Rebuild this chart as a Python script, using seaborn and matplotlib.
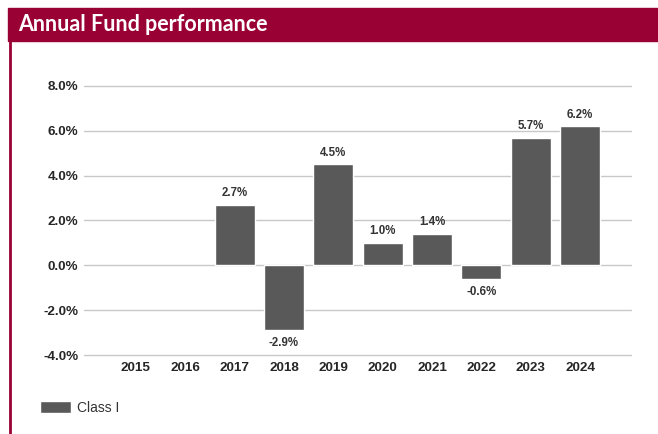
import matplotlib.pyplot as plt
import numpy as np
import pandas as pd
import seaborn as sns
from matplotlib.patches import Rectangle
from matplotlib.lines import Line2D

# data
years = ['2015', '2016', '2017', '2018', '2019', '2020', '2021', '2022', '2023', '2024']
returns = [np.nan, np.nan, 2.7, -2.9, 4.5, 1.0, 1.4, -0.6, 5.7, 6.2]
series = 'Class I'
yticks = [-4, -2, 0, 2, 4, 6, 8]

df = pd.DataFrame({'year': years, 'ret': returns, 'series': series})

sns.set_style('white')
plt.rcParams['font.family'] = ['Liberation Sans', 'DejaVu Sans']

fig = plt.figure(figsize=(6.58, 4.34), dpi=100)
W, H = 658, 434
ax = fig.add_axes([84 / W, 1 - 355 / H, (631 - 84) / W, (355 - 86) / H])

bar_color = '#595959'
sns.barplot(data=df, x='year', y='ret', hue='series', order=years,
            palette={series: bar_color}, width=0.81, dodge=False,
            saturation=1, ax=ax)

ax.set_ylim(-4, 8)
ax.set_xlim(-1.05, 10.03)
ax.set_yticks(yticks)
ax.set_yticklabels(['{:.1f}%'.format(v) for v in yticks])
ax.yaxis.grid(True, color='#c8c8c8', lw=1)
for gl in ax.get_ygridlines():
    gl.set_clip_on(False)
ax.set_axisbelow(True)
for s in ax.spines.values():
    s.set_visible(False)
ax.tick_params(length=0, labelsize=9.7, labelcolor='#262626')
ax.tick_params(axis='y', pad=4)
ax.tick_params(axis='x', pad=5)
for lab in ax.get_xticklabels() + ax.get_yticklabels():
    lab.set_fontweight('bold')
ax.set_xlabel('')
ax.set_ylabel('')

# value labels
for i, v in enumerate(returns):
    if np.isnan(v):
        continue
    if v >= 0:
        ax.annotate('{:.1f}%'.format(v), (i, v), xytext=(0, 4), textcoords='offset points',
                    ha='center', va='bottom', fontsize=8.3, fontweight='bold', color='#333333')
    else:
        ax.annotate('{:.1f}%'.format(v), (i, v), xytext=(0, -5), textcoords='offset points',
                    ha='center', va='top', fontsize=8.3, fontweight='bold', color='#333333')

# legend
sns.move_legend(ax, loc='center left', bbox_to_anchor=(40 / W, 1 - 408 / H),
                bbox_transform=fig.transFigure, frameon=False, title=None,
                borderaxespad=0, borderpad=0, handlelength=2.2, handleheight=0.95,
                handletextpad=0.45, fontsize=10)
for t in ax.get_legend().get_texts():
    t.set_color('#333333')

# header band and left border
crimson = '#990033'
fig.patches.append(Rectangle((8 / W, 1 - 41 / H), 1 - 8 / W, 33 / H,
                             transform=fig.transFigure, color=crimson, zorder=0))
fig.lines.append(Line2D([10 / W, 10 / W], [0, 1 - 41 / H], transform=fig.transFigure,
                        color=crimson, lw=2))
fig.text(18 / W, 1 - 24.5 / H, 'Annual Fund performance', color='white', fontsize=15.5,
         fontweight='bold', family=['Lato', 'DejaVu Sans'], va='center', ha='left')

plt.savefig('out.png', dpi=100)
